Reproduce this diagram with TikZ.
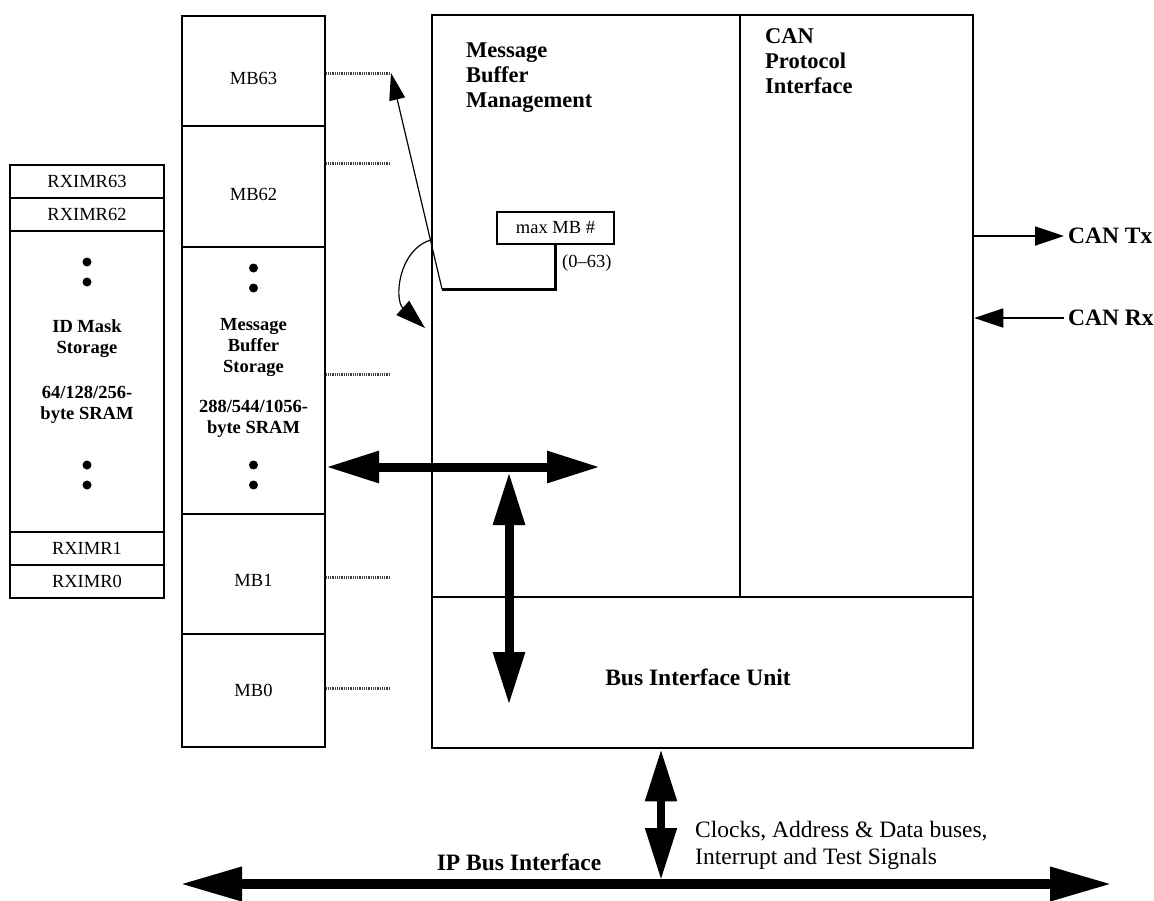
\documentclass[tikz,border=0pt]{standalone}
\usepackage{fontspec}
\setmainfont{Liberation Serif}
\usepackage{tikz}
\usetikzlibrary{arrows.meta,positioning,calc}
\tikzset{
  cell/.style={rectangle, draw, line width=2.2pt, inner sep=0pt},
  txt/.style={inner sep=0pt, font=\fontsize{18.5}{21}\selectfont},
  btxt/.style={inner sep=0pt, align=center, font=\bfseries\fontsize{18.5}{21}\selectfont},
  head/.style={inner sep=0pt, align=left, font=\bfseries\fontsize{23.5}{27}\selectfont},
  dotline/.style={line width=3pt, black!75, dash pattern=on 1pt off 0.8pt},
  bus/.style={{Triangle[length=53pt,width=30pt]}-{Triangle[length=53pt,width=30pt]}, line width=9pt},
  sig/.style={-{Triangle[length=29pt,width=19pt]}, line width=1.8pt},
  ptr/.style={-{Triangle[length=27pt,width=16pt]}, line width=1.2pt}
}

\begin{document}
\begin{tikzpicture}[x=1pt, y=-1pt,
  maskcell/.style={cell, minimum width=154pt},
  mbcell/.style={cell, minimum width=143pt},
  blk/.style={cell, line width=2.5pt}
]
  \path[use as bounding box] (0,0) rectangle (1154,900);

  \node[maskcell, minimum height=33pt, font=\fontsize{18.5}{21}\selectfont] (rx63) at (87,181.5) {RXIMR63};
  \node[maskcell, minimum height=33pt, font=\fontsize{18.5}{21}\selectfont] (rx62) at (87,214.5) {RXIMR62};
  \node[maskcell, minimum height=301pt] (idm) at (87,381.5) {};
  \node[maskcell, minimum height=33pt, font=\fontsize{18.5}{21}\selectfont] (rx1) at (87,548.5) {RXIMR1};
  \node[maskcell, minimum height=33pt, font=\fontsize{18.5}{21}\selectfont] (rx0) at (87,581.5) {RXIMR0};
  \node[btxt, anchor=north] (idlbl) at (87,319) {ID Mask\\Storage};
  \node[btxt, anchor=north] (idsize) at (87,386) {64/128/256-\\byte SRAM};
  \foreach \y in {262,282,465,485}
    \fill (87,\y) circle (4.5);

  \node[mbcell, minimum height=110pt] (mb63) at (253.5,71) {};
  \node[mbcell, minimum height=121pt] (mb62) at (253.5,186.5) {};
  \node[mbcell, minimum height=267pt] (mbmid) at (253.5,380.5) {};
  \node[mbcell, minimum height=120pt] (mb1) at (253.5,574) {};
  \node[mbcell, minimum height=113pt] (mb0) at (253.5,690.5) {};
  \node[txt] (mb63lbl) at (253.5,78) {MB63};
  \node[txt] (mb62lbl) at (253.5,194) {MB62};
  \node[txt] (mb1lbl) at (253.5,580) {MB1};
  \node[txt] (mb0lbl) at (253.5,690) {MB0};
  \node[btxt, anchor=north] (mbslbl) at (253.5,318) {Message\\Buffer\\Storage};
  \node[btxt, anchor=north] (mbssize) at (253.5,400) {288/544/1056-\\byte SRAM};
  \foreach \y in {268,288,465,485}
    \fill (253.5,\y) circle (4.5);

  \node[blk, minimum width=308pt, minimum height=582pt] (mbm) at (586,306) {};
  \node[blk, minimum width=233pt, minimum height=582pt] (cpi) at (856.5,306) {};
  \node[blk, minimum width=541pt, minimum height=151pt] (biu) at (702.5,672.5) {};
  \node[head] (biulbl) at (698,677) {Bus Interface Unit};
  \node[head, anchor=north west, font=\bfseries\fontsize{22.5}{25}\selectfont] (mbmlbl) at (466,43) {Message\\Buffer\\Management};
  \node[head, anchor=north west, font=\bfseries\fontsize{22.5}{25}\selectfont] (cpilbl) at (765,28) {CAN\\Protocol\\Interface};

  \node[cell, line width=2.5pt, minimum width=117pt, minimum height=32pt, font=\fontsize{18.5}{21}\selectfont] (maxmb) at (555.5,228) {max MB \#};
  \node[txt, anchor=west] (range) at (562,263) {(0--63)};
  \coordinate (bend) at (442,289);
  \coordinate (t63) at (391,73);
  \coordinate (c2) at (425,328);
  \draw[line width=3pt] (maxmb.south) |- (bend);
  \draw[ptr] (bend) -- (t63);
  \draw[ptr, -{Triangle[length=30pt,width=19pt]}] (mbm.west |- 0,240) .. controls (398,250) and (394,300) .. (c2);

  \foreach \c/\y in {mb63/73, mb62/163, mbmid/374, mb1/577, mb0/688}
    \draw[dotline] (\c.east |- 0,\y) -- (390,\y);

  \coordinate (hbus) at (600,467);
  \coordinate (vtop) at (509,472);
  \coordinate (vbot) at (509,705);
  \draw[bus] (mbmid.east |- hbus) -- (hbus);
  \draw[bus] (vtop) -- (vbot);

  \node[head, anchor=west] (tx) at (1068,236) {CAN Tx};
  \node[head, anchor=west] (rx) at (1068,318) {CAN Rx};
  \draw[sig] (tx.west -| cpi.east) -- ([xshift=-4pt]tx.west);
  \draw[sig] ([xshift=-4pt]rx.west) -- (rx.west -| cpi.east);

  \coordinate (ipl) at (180,884);
  \coordinate (ipr) at (1112,884);
  \coordinate (ipmid) at (661,880);
  \draw[bus, {Triangle[length=52pt,width=30pt]}-{Triangle[length=52pt,width=30pt]}, line width=8pt] (biu.south -| ipmid) -- (ipmid);
  \draw[bus, {Triangle[length=62pt,width=32pt]}-{Triangle[length=62pt,width=32pt]}, line width=10pt] (ipl) -- (ipr);
  \node[head] (iplbl) at (519,862) {IP Bus Interface};
  \node[inner sep=0pt, anchor=north west, align=left, font=\fontsize{23.5}{27}\selectfont] (sigs) at (695,821) {Clocks, Address \& Data buses,\\Interrupt and Test Signals};
\end{tikzpicture}
\end{document}
